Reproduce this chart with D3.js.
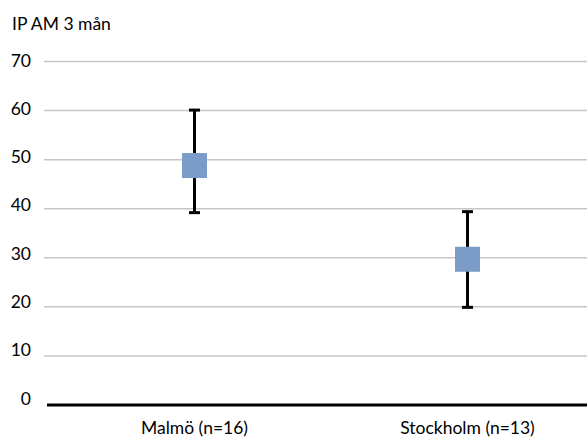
<!DOCTYPE html>
<html>
<head>
<meta charset="utf-8">
<script src="https://cdn.jsdelivr.net/npm/d3@7"></script>
<style>
  body { margin: 0; background: #fff; }
  svg { display: block; font-family: "Lato", "Open Sans", sans-serif; }
</style>
</head>
<body>
<svg width="587" height="439"></svg>
<script>
  var categories = ["Malmö (n=16)", "Stockholm (n=13)"];
  var means = [48.8, 29.7];
  var lows = [39.2, 19.9];
  var highs = [60.1, 39.4];
  var yTicks = [0, 10, 20, 30, 40, 50, 60, 70];

  var svg = d3.select("svg");
  var width = +svg.attr("width");
  var fontSize = 17.5;

  var y = d3.scaleLinear().domain([0, 70]).range([405, 61.5]);
  // tick labels sit a little off the gridlines, like in the original
  var yLabel = d3.scaleLinear().domain([0, 70]).range([404.5, 66.5]);
  var x = d3.scaleBand().domain(categories).range([58, 604]);

  // title
  svg.append("text")
    .attr("x", 12)
    .attr("y", 30)
    .attr("font-size", fontSize)
    .attr("fill", "#000")
    .text("IP AM 3 mån");

  // gridlines
  svg.append("g")
    .selectAll("line")
    .data(yTicks.filter(function (d) { return d > 0; }))
    .enter()
    .append("line")
    .attr("x1", 44)
    .attr("x2", width)
    .attr("y1", function (d) { return y(d); })
    .attr("y2", function (d) { return y(d); })
    .attr("stroke", "#c6c6c6")
    .attr("stroke-width", 1.5);

  // y labels
  svg.append("g")
    .selectAll("text")
    .data(yTicks)
    .enter()
    .append("text")
    .attr("x", 31)
    .attr("y", function (d) { return yLabel(d); })
    .attr("text-anchor", "end")
    .attr("font-size", fontSize)
    .text(function (d) { return d; });

  // baseline
  svg.append("line")
    .attr("x1", 47)
    .attr("x2", width)
    .attr("y1", y(0))
    .attr("y2", y(0))
    .attr("stroke", "#000")
    .attr("stroke-width", 3);

  // x labels
  svg.append("g")
    .selectAll("text")
    .data(categories)
    .enter()
    .append("text")
    .attr("x", function (d) { return x(d) + x.bandwidth() / 2; })
    .attr("y", 434)
    .attr("text-anchor", "middle")
    .attr("font-size", fontSize)
    .text(function (d) { return d; });

  var capW = 11;
  var sq = 25;

  var points = svg.append("g")
    .selectAll("g")
    .data(categories)
    .enter()
    .append("g")
    .attr("transform", function (d) {
      return "translate(" + (x(d) + x.bandwidth() / 2) + ",0)";
    });

  points.append("line")
    .attr("y1", function (d, i) { return y(highs[i]); })
    .attr("y2", function (d, i) { return y(lows[i]); })
    .attr("stroke", "#000")
    .attr("stroke-width", 3);

  points.append("line")
    .attr("x1", -capW / 2)
    .attr("x2", capW / 2)
    .attr("y1", function (d, i) { return y(highs[i]); })
    .attr("y2", function (d, i) { return y(highs[i]); })
    .attr("stroke", "#000")
    .attr("stroke-width", 3);

  points.append("line")
    .attr("x1", -capW / 2)
    .attr("x2", capW / 2)
    .attr("y1", function (d, i) { return y(lows[i]); })
    .attr("y2", function (d, i) { return y(lows[i]); })
    .attr("stroke", "#000")
    .attr("stroke-width", 3);

  points.append("rect")
    .attr("x", -sq / 2)
    .attr("y", function (d, i) { return y(means[i]) - sq / 2; })
    .attr("width", sq)
    .attr("height", sq)
    .attr("fill", "#7b9cc8");
</script>
</body>
</html>
